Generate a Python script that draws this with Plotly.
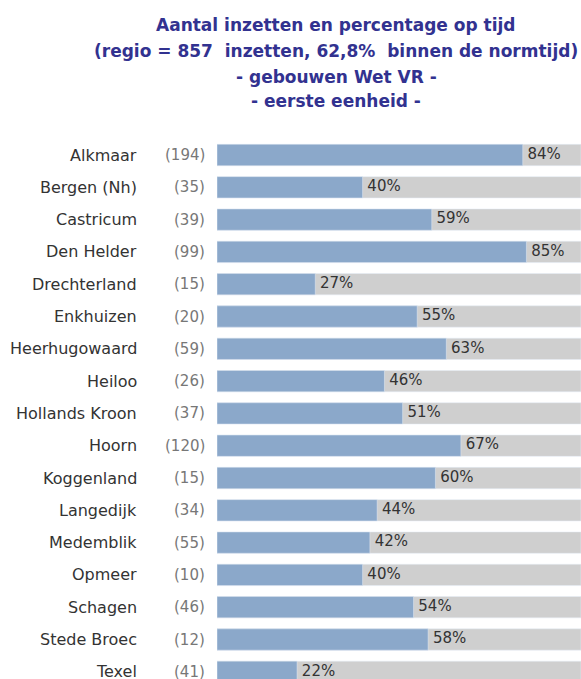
import plotly.graph_objects as go

gemeenten = ["Alkmaar", "Bergen (Nh)", "Castricum", "Den Helder", "Drechterland",
             "Enkhuizen", "Heerhugowaard", "Heiloo", "Hollands Kroon", "Hoorn",
             "Koggenland", "Langedijk", "Medemblik", "Opmeer", "Schagen",
             "Stede Broec", "Texel"]
inzetten = [194, 35, 39, 99, 15, 20, 59, 26, 37, 120, 15, 34, 55, 10, 46, 12, 41]
op_tijd = [84, 40, 59, 85, 27, 55, 63, 46, 51, 67, 60, 44, 42, 40, 54, 58, 22]
totaal = [100] * len(gemeenten)

title_lines = ["Aantal inzetten en percentage op tijd",
               "(regio = 857  inzetten, 62,8%  binnen de normtijd)",
               "- gebouwen Wet VR -",
               "- eerste eenheid -"]

idx = list(range(len(gemeenten)))
W, H = 581, 679
ML, MT = 217, 130
PW = W - ML
PH = H - MT
FONT = "DejaVu Sans"

fig = go.Figure()
fig.add_trace(go.Bar(y=idx, x=totaal, orientation="h", marker_color="#CFCFCF",
                     width=0.66, hoverinfo="skip"))
fig.add_trace(go.Bar(y=idx, x=op_tijd, orientation="h", marker_color="#8BA8CA",
                     width=0.66, hoverinfo="skip"))
fig.add_trace(go.Scatter(y=idx, x=op_tijd, mode="text",
                         text=[f" {v}%" for v in op_tijd], textposition="middle right",
                         textfont=dict(family=FONT, size=15, color="#333333"),
                         hoverinfo="skip", cliponaxis=False))

annotations = []
for i, (g, n) in enumerate(zip(gemeenten, inzetten)):
    annotations.append(dict(x=(139 - ML) / PW, xref="paper", y=i, yref="y",
                            text=g, showarrow=False, xanchor="right", yanchor="middle",
                            font=dict(family=FONT, size=16, color="#333333")))
    annotations.append(dict(x=(207 - ML) / PW, xref="paper", y=i, yref="y",
                            text=f"({n})", showarrow=False, xanchor="right", yanchor="middle",
                            font=dict(family=FONT, size=15, color="#777777")))

title_y = [25, 51, 77, 101]
for t, yy in zip(title_lines, title_y):
    annotations.append(dict(x=(336 - ML) / PW, xref="paper", y=(H - yy) / PH, yref="paper",
                            yanchor="middle", xanchor="center", text=f"<b>{t}</b>",
                            showarrow=False,
                            font=dict(family=FONT, size=17, color="#323290")))

row_px = 32.3
top_val = -(155 - MT) / row_px
bot_val = (H - 155) / row_px

fig.update_layout(
    width=W, height=H,
    margin=dict(l=ML, r=0, t=MT, b=0, autoexpand=False),
    barmode="overlay",
    showlegend=False,
    plot_bgcolor="white", paper_bgcolor="white",
    xaxis=dict(range=[0, 100], visible=False, fixedrange=True),
    yaxis=dict(range=[bot_val, top_val], visible=False, fixedrange=True),
    annotations=annotations,
)

fig.write_html("out.html", config={"displayModeBar": False, "staticPlot": True},
               post_script="document.body.style.margin='0';document.body.style.overflow='hidden';")
